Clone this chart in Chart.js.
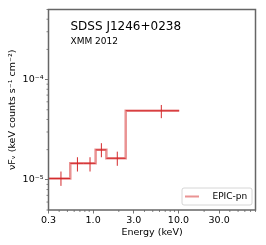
<!DOCTYPE html>
<html>
<head>
<meta charset="utf-8">
<script src="https://cdn.jsdelivr.net/npm/chart.js@4.4.1/dist/chart.umd.min.js"></script>
<style>
	html, body { margin: 0; padding: 0; background: #fff; }
	canvas { display: block; }
</style>
</head>
<body>
<canvas id="spec" width="266" height="245"></canvas>
<script>
// spectrum bins (keV)
const binEdges   = [0.3, 0.54, 0.77, 1.07, 1.43, 2.41, 10.2];
const binCenters = [0.42, 0.655, 0.92, 1.25, 1.92, 6.3];
const fluxValues = [1.03e-5, 1.46e-5, 1.46e-5, 1.99e-5, 1.64e-5, 4.89e-5];
const fluxLow    = [0.87e-5, 1.21e-5, 1.21e-5, 1.68e-5, 1.38e-5, 4.12e-5];
const fluxHigh   = [1.21e-5, 1.68e-5, 1.68e-5, 2.32e-5, 1.91e-5, 5.58e-5];

const xTicks      = [0.3, 1, 3, 10, 30];
const xTickLabels = ['0.3', '1.0', '3.0', '10.0', '30.0'];
const yTicks      = [1e-5, 1e-4];
const yTickLabels = ['10\u207B\u2075', '10\u207B\u2074'];

const sourceName = 'SDSS J1246+0238';
const obsLabel   = 'XMM 2012';
const seriesName = 'EPIC-pn';

const FONT = 'DejaVu Sans';
const FRAME = '#666666';
const STEP_COLOR = 'rgba(214,39,40,0.5)';
const ERR_COLOR = '#d42a2c';

// step points: first edge + every right edge carrying its bin value
// (chart.js stepped 'after' goes vertical first, then horizontal)
var stepData = [{x: binEdges[0], y: fluxValues[0]}].concat(
	binEdges.slice(1).map(function (e, i) { return {x: e, y: fluxValues[i]}; })
);

// error bars: horizontal bin width + vertical flux error, separated by gaps
var errData = [];
binCenters.forEach(function (c, i) {
	errData.push({x: binEdges[i], y: fluxValues[i]});
	errData.push({x: binEdges[i + 1], y: fluxValues[i]});
	errData.push({x: c, y: null});
	errData.push({x: c, y: fluxLow[i]});
	errData.push({x: c, y: fluxHigh[i]});
	errData.push({x: c, y: null});
});

function minorValues (lo, hi) {
	var out = [];
	for (var p = Math.floor(Math.log10(lo)); p <= Math.ceil(Math.log10(hi)); p++) {
		for (var k = 1; k < 10; k++) {
			var v = k * Math.pow(10, p);
			if (v >= lo * 0.9999 && v <= hi * 1.0001) out.push(v);
		}
	}
	return out;
}

const framePlugin = {
	id: 'frame',
	afterDraw (chart) {
		var ctx = chart.ctx;
		var a = chart.chartArea;
		var xs = chart.scales.x, ys = chart.scales.y;
		ctx.save();
		ctx.strokeStyle = FRAME;
		ctx.lineWidth = 0.8;
		// minor ticks
		minorValues(xs.min, xs.max).forEach(function (v) {
			if (xTicks.some(t => Math.abs(t - v) / v < 1e-6)) return;
			var px = xs.getPixelForValue(v);
			ctx.beginPath(); ctx.moveTo(px, a.bottom); ctx.lineTo(px, a.bottom + 2); ctx.stroke();
		});
		minorValues(ys.min, ys.max).forEach(function (v) {
			if (yTicks.some(t => Math.abs(t - v) / v < 1e-6)) return;
			var py = ys.getPixelForValue(v);
			ctx.beginPath(); ctx.moveTo(a.left, py); ctx.lineTo(a.left - 2, py); ctx.stroke();
		});
		// box
		ctx.lineWidth = 1.5;
		ctx.strokeRect(a.left, a.top, a.right - a.left, a.bottom - a.top);

		// annotation text
		ctx.fillStyle = '#000';
		ctx.textAlign = 'left';
		ctx.textBaseline = 'middle';
		ctx.font = '12px "' + FONT + '"';
		ctx.fillText(sourceName, 70.5, 27);
		ctx.font = '9px "' + FONT + '"';
		ctx.fillText(obsLabel, 70.5, 42);

		// legend
		ctx.beginPath();
		ctx.roundRect(182, 188, 70, 17, 2);
		ctx.fillStyle = 'rgba(255,255,255,0.8)';
		ctx.fill();
		ctx.strokeStyle = '#cccccc';
		ctx.lineWidth = 0.8;
		ctx.stroke();
		ctx.strokeStyle = STEP_COLOR;
		ctx.lineWidth = 2;
		ctx.beginPath(); ctx.moveTo(185, 196.5); ctx.lineTo(199, 196.5); ctx.stroke();
		ctx.fillStyle = '#000';
		ctx.font = '9px "' + FONT + '"';
		ctx.fillText(seriesName, 212.5, 197);
		ctx.restore();
	}
};

new Chart(document.getElementById('spec'), {
	type: 'line',
	data: {
		datasets: [
			{
				label: seriesName,
				data: stepData,
				stepped: 'after',
				borderColor: STEP_COLOR,
				borderWidth: 2.5,
				pointRadius: 0,
				order: 1,
			},
			{
				label: 'errors',
				data: errData,
				borderColor: ERR_COLOR,
				borderWidth: 1,
				pointRadius: 0,
				spanGaps: false,
				order: 0,
			},
		],
	},
	options: {
		responsive: false,
		animation: false,
		devicePixelRatio: 1,
		layout: {padding: {top: 9.5, right: 10.5, left: 0, bottom: 0}},
		plugins: {
			legend: {display: false},
			tooltip: {enabled: false},
		},
		scales: {
			x: {
				type: 'logarithmic',
				min: 0.3,
				max: 80,
				afterBuildTicks (scale) { scale.ticks = xTicks.map(v => ({value: v})); },
				afterFit (scale) { scale.height = 35; },
				ticks: {
					autoSkip: false,
					maxRotation: 0,
					padding: 1,
					color: '#000',
					font: {family: FONT, size: 9.5},
					callback: (v) => xTickLabels[xTicks.indexOf(v)],
				},
				grid: {drawOnChartArea: false, tickLength: 3.5, tickColor: FRAME, tickWidth: 0.9},
				border: {display: false},
				title: {
					display: true,
					text: 'Energy (keV)',
					color: '#000',
					font: {family: FONT, size: 9.5, lineHeight: 1.2},
					padding: {top: 0, bottom: 6.3},
				},
			},
			y: {
				type: 'logarithmic',
				min: 5e-6,
				max: 5e-4,
				afterBuildTicks (scale) { scale.ticks = yTicks.map(v => ({value: v})); },
				afterFit (scale) { scale.width = 48.5; },
				ticks: {
					autoSkip: false,
					padding: 1.5,
					color: '#000',
					font: {family: FONT, size: 9.5},
					callback: (v) => yTickLabels[yTicks.indexOf(v)],
				},
				grid: {drawOnChartArea: false, tickLength: 3.5, tickColor: FRAME, tickWidth: 0.9},
				border: {display: false},
				title: {
					display: true,
					text: '\u03BDF\u1D65 (keV counts s\u207B\u00B9 cm\u207B\u00B2)',
					color: '#000',
					font: {family: FONT, size: 9.5, lineHeight: 1.2},
					padding: {top: 7, bottom: 0},
				},
			},
		},
	},
	plugins: [framePlugin],
});
</script>
</body>
</html>
